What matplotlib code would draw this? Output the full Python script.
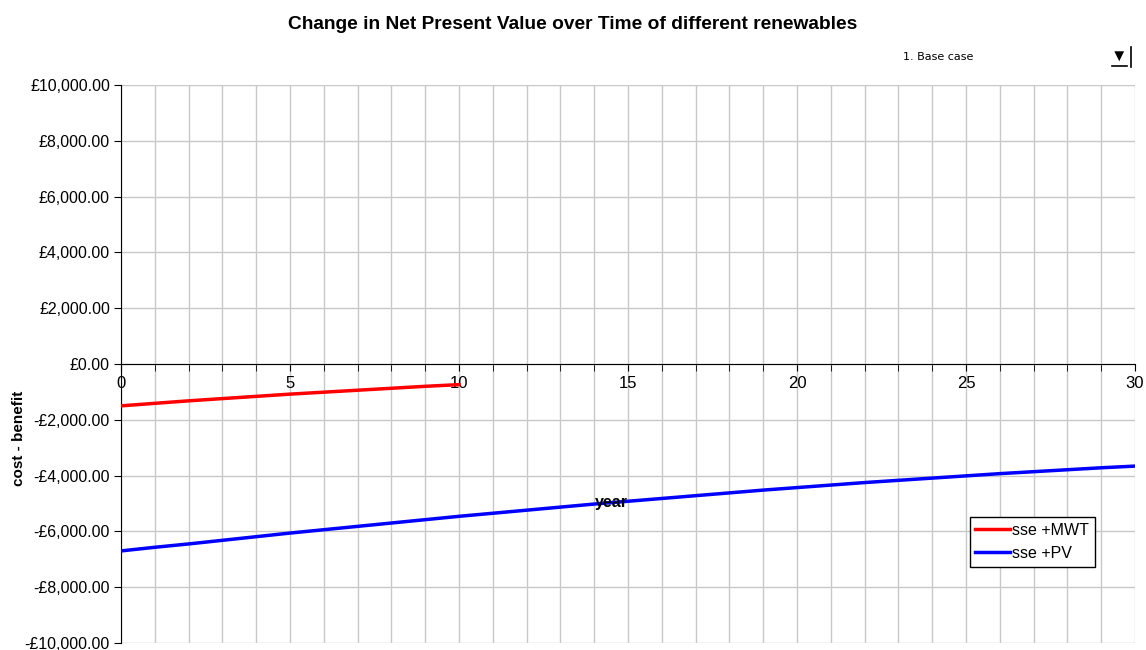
import numpy as np
import matplotlib.pyplot as plt
from matplotlib.lines import Line2D
from matplotlib.ticker import FuncFormatter, MultipleLocator

plt.rcParams['font.family'] = ['Liberation Sans', 'DejaVu Sans']

years_mwt = list(range(0, 11))
npv_mwt = [-1500, -1410, -1320, -1240, -1160, -1080, -1010, -940, -870, -800, -740]

years_pv = list(range(0, 31))
npv_pv = [-6700, -6570, -6450, -6320, -6190, -6060, -5940, -5820, -5700, -5580,
          -5460, -5350, -5240, -5130, -5020, -4920, -4820, -4720, -4620, -4520,
          -4430, -4340, -4250, -4170, -4090, -4010, -3930, -3860, -3790, -3720,
          -3660]


def pounds(v, pos):
    s = "£{:,.2f}".format(abs(v))
    return "-" + s if v < 0 else s


fig = plt.figure(figsize=(11.46, 6.5), dpi=100)
ax = fig.add_axes([0.1056, 0.0108, 0.8848, 0.8584])

ax.plot(years_mwt, npv_mwt, color='#ff0000', lw=2.5, label='sse +MWT', zorder=3)
ax.plot(years_pv, npv_pv, color='#0000ff', lw=2.5, label='sse +PV', zorder=3)

ax.set_xlim(0, 30)
ax.set_ylim(-10000, 10000)
ax.yaxis.set_major_locator(MultipleLocator(2000))
ax.yaxis.set_major_formatter(FuncFormatter(pounds))
ax.xaxis.set_major_locator(MultipleLocator(5))
ax.xaxis.set_minor_locator(MultipleLocator(1))

ax.grid(True, which='both', color='#c8c8c8', lw=1, zorder=0)
ax.set_axisbelow(True)

for s in ['top', 'right']:
    ax.spines[s].set_visible(False)
ax.spines['bottom'].set_position(('data', 0))
ax.spines['bottom'].set_zorder(2)
ax.spines['left'].set_color('black')

ax.tick_params(axis='y', labelsize=11.5, length=5, direction='out', pad=3)
ax.tick_params(axis='x', which='both', labelsize=12, length=5, direction='out', pad=4)

# x axis title sits inside the plot, on top of the lines
ax.text(0.484, 0.252, 'year', transform=ax.transAxes, ha='center', va='center',
        fontsize=11.5, fontweight='bold', zorder=6)
ax.set_ylabel('cost - benefit', fontsize=11, fontweight='bold')
ax.yaxis.set_label_coords(-0.094, 0.367)

ax.legend(loc='upper left', bbox_to_anchor=(0.837, 0.225), fontsize=11.5,
          frameon=True, fancybox=False, edgecolor='black', framealpha=1,
          handlelength=2.2, handletextpad=0.1, borderpad=0.35, labelspacing=0.5,
          borderaxespad=0)

fig.text(0.5, 0.963, 'Change in Net Present Value over Time of different renewables',
         ha='center', va='center', fontsize=13.8, fontweight='bold')

# dropdown selector
fig.text(0.788, 0.912, '1. Base case', ha='left', va='center', fontsize=8,
         family=['DejaVu Sans'])
fig.text(0.9765, 0.914, '▼', ha='center', va='center', fontsize=12)
fig.add_artist(Line2D([0.970, 0.983], [0.898, 0.898], color='black', lw=1.2,
                      transform=fig.transFigure))
fig.add_artist(Line2D([0.9865, 0.9865], [0.897, 0.928], color='black', lw=1.2,
                      transform=fig.transFigure))

fig.savefig('out.png', dpi=100)
